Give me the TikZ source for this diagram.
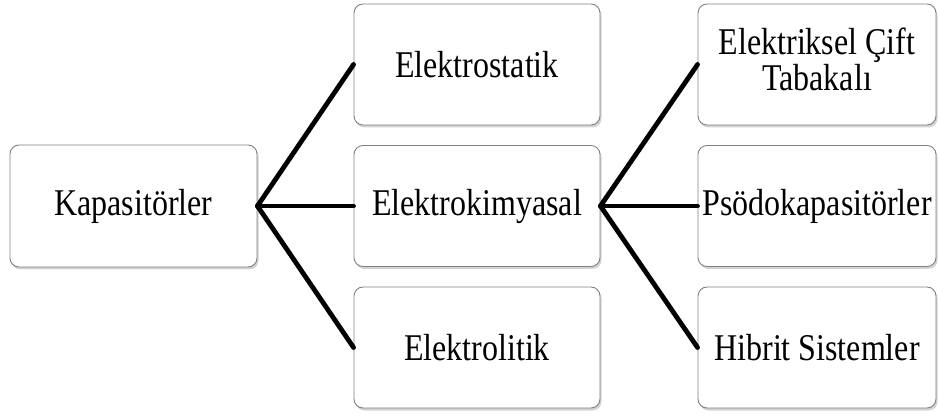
\documentclass[tikz,border=0pt]{standalone}
\usepackage{fontspec}
\setmainfont{Liberation Serif}
\usetikzlibrary{shadows}
\definecolor{boxborder}{RGB}{130,130,130}
\newcommand{\stx}[1]{\scalebox{1}[1.18]{#1}}
\begin{document}
\begin{tikzpicture}[x=1pt,y=-1pt,
  box/.style={draw=boxborder, line width=0.9pt, fill=white, rounded corners=9pt,
    inner sep=0pt, align=center, font=\fontsize{32}{29}\selectfont,
    drop shadow={shadow xshift=1.5pt, shadow yshift=-2.5pt, opacity=0.35, fill=gray}},
  midbox/.style={box, minimum width=246pt, minimum height=121pt},
  rbox/.style={box, minimum width=238pt, minimum height=121pt},
  link/.style={line width=4.8pt, line cap=round}]
\useasboundingbox (0,0) rectangle (938,414);
\node[box, minimum width=247pt, minimum height=122pt] (k) at (133.5,206) {\stx{Kapasitörler}};
\node[midbox] (m1) at (477,64.5) {\stx{Elektrostatik}};
\node[midbox] (m2) at (477,206) {\stx{Elektrokimyasal}};
\node[midbox] (m3) at (477,347.5) {\stx{Elektrolitik}};
\node[rbox] (r1) at (817,64.5) {\stx{\begin{tabular}{@{}c@{}}Elektriksel Çift\\Tabakalı\end{tabular}}};
\node[rbox] (r2) at (817,206) {\stx{Psödokapasitörler}};
\node[rbox] (r3) at (817,347.5) {\stx{Hibrit Sistemler}};
\draw[link] (k.east) -- (m1.west);
\draw[link] (k.east) -- (m2.west);
\draw[link] (k.east) -- (m3.west);
\draw[link] (m2.east) -- (r1.west);
\draw[link] (m2.east) -- (r2.west);
\draw[link] (m2.east) -- (r3.west);
\end{tikzpicture}
\end{document}
